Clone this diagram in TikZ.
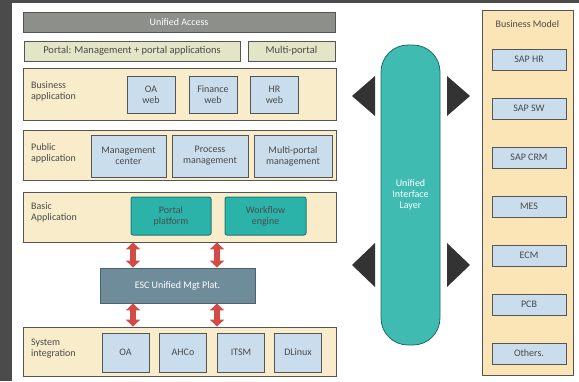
\documentclass[tikz,border=0pt]{standalone}
\usepackage{fontspec}
\setmainfont{Carlito}
\usetikzlibrary{arrows.meta,positioning}
\definecolor{FrameGray}{HTML}{4B4B4B}
\definecolor{LineGray}{HTML}{555555}
\definecolor{TextGray}{HTML}{4A4A4A}
\definecolor{TitleGray}{HTML}{8C8F8A}
\definecolor{PortalGreen}{HTML}{E2E6C6}
\definecolor{LayerYellow}{HTML}{F8ECCB}
\definecolor{ModelYellow}{HTML}{FBE5B6}
\definecolor{AppBlue}{HTML}{C9DDEC}
\definecolor{BaseTeal}{HTML}{2BB3A9}
\definecolor{BusSteel}{HTML}{6F8C9A}
\definecolor{BusRed}{HTML}{D34B47}

\tikzset{
  layer/.style={draw=LineGray, fill=LayerYellow, line width=0.8pt, minimum width=313, inner sep=0pt},
  layerlabel/.style={anchor=west, align=left, text=TextGray, font=\fontsize{10}{11}\selectfont},
  appbox/.style={draw=LineGray, fill=AppBlue, line width=1pt, align=center, text=TextGray,
    inner sep=1pt, font=\fontsize{10}{11}\selectfont},
  basebox/.style={appbox, draw=BaseTeal!70!black, fill=BaseTeal, text=black!70, rounded corners=2pt},
  portalbox/.style={draw=LineGray, fill=PortalGreen, line width=1pt, minimum height=20, text=TextGray,
    inner sep=1pt, font=\fontsize{10.5}{11}\selectfont},
  modelbox/.style={appbox, minimum width=74, minimum height=21},
  bus/.style={BusRed, line width=6pt, {Triangle[width=14pt,length=7pt]}-{Triangle[width=14pt,length=7pt]}},
  wing/.style={fill=black!80}
}

\begin{document}
\begin{tikzpicture}[x=1pt, y=-1pt]
\useasboundingbox (0,0) rectangle (579,381);
\fill[white] (0,0) rectangle (579,381);
\fill[FrameGray] (0,0) rectangle (12,381);
\fill[FrameGray] (0,0) rectangle (579,3);

% top rows
\node[draw=LineGray, fill=TitleGray, line width=1pt, minimum width=312, minimum height=20,
  text=white, font=\fontsize{10}{11}\selectfont] (title) at (179,22) {Unified Access};
\node[portalbox, minimum width=216] (portal) at (132,51) {Portal: Management + portal applications};
\node[portalbox, minimum width=87] (multi) at (291.5,51) {Multi-portal};

% business application
\node[layer, minimum height=52] (bizapp) at (179.5,94) {};
\node[layerlabel] (bizlbl) at ([xshift=5pt, yshift=3pt]bizapp.west) {Business\\application};
\node[appbox, minimum width=48, minimum height=37] (oaweb) at (151,94.5) {OA\\web};
\node[appbox, minimum width=48, minimum height=37] (finweb) at (213,94.5) {Finance\\web};
\node[appbox, minimum width=48, minimum height=37] (hrweb) at (274.5,94.5) {HR\\web};

% public application
\node[layer, minimum height=50] (pubapp) at (179.5,155) {};
\node[layerlabel] (publbl) at ([xshift=5pt, yshift=2pt]pubapp.west) {Public\\application};
\node[appbox, minimum width=75, minimum height=42] (mgmt) at (128.5,156) {Management\\center};
\node[appbox, minimum width=76, minimum height=42] (proc) at (210,156) {Process\\management};
\node[appbox, minimum width=78, minimum height=42] (mpm) at (293,156) {Multi-portal\\management};

% basic application
\node[layer, minimum height=50] (basic) at (179.5,217) {};
\node[layerlabel] (baslbl) at ([xshift=5pt, yshift=5pt]basic.west) {Basic\\Application};
\node[basebox, minimum width=80, minimum height=38] (pplat) at (171,216) {Portal\\platform};
\node[basebox, minimum width=81, minimum height=38] (wflow) at (265.5,216) {Workflow\\engine};

% exchange bus
\node[draw=BusSteel!70!black, fill=BusSteel, line width=0.8pt, minimum width=155, minimum height=35,
  text=white, font=\fontsize{10}{11}\selectfont] (esc) at (177.5,285.5) {ESC Unified Mgt Plat.};

% system integration
\node[layer, minimum height=49] (sysint) at (179.5,351.5) {};
\node[layerlabel] (syslbl) at ([xshift=5pt, yshift=3pt]sysint.west) {System\\integration};
\node[appbox, minimum width=47, minimum height=39] (oa) at (125.5,352.5) {OA};
\node[appbox, minimum width=47, minimum height=39] (ahco) at (183,352.5) {AHCo};
\node[appbox, minimum width=47, minimum height=39] (itsm) at (241,352.5) {ITSM};
\node[appbox, minimum width=47, minimum height=39] (dlinux) at (298,352.5) {DLinux};

\coordinate (ax1) at (133,0);
\coordinate (ax2) at (217,0);
\draw[bus] (ax1 |- basic.south) -- (ax1 |- esc.north);
\draw[bus] (ax2 |- basic.south) -- (ax2 |- esc.north);
\draw[bus] (ax1 |- esc.south) -- (ax1 |- sysint.north);
\draw[bus] (ax2 |- esc.south) -- (ax2 |- sysint.north);

% interface pillar
\fill[wing] (352,96) -- (375,76) -- (375,116) -- cycle;
\fill[wing] (470,96) -- (447,76) -- (447,116) -- cycle;
\fill[wing] (352,265) -- (375,243) -- (375,287) -- cycle;
\fill[wing] (470,265) -- (447,243) -- (447,287) -- cycle;
\node[draw=BaseTeal!60!black, fill=BaseTeal!90!white, line width=0.8pt, rounded corners=27pt,
  minimum width=59, minimum height=300, align=center, text=white,
  font=\fontsize{10}{11}\selectfont] (pill) at (410.5,195) {Unified\\Interface\\Layer};

% business model
\node[draw=LineGray, fill=ModelYellow, line width=0.8pt, minimum width=91, minimum height=365] (model) at (527.5,192.5) {};
\node[text=TextGray, font=\fontsize{10}{11}\selectfont] (modellbl) at (527.5,24) {Business Model};
\foreach \nm [count=\i] in {SAP HR, SAP SW, SAP CRM, MES, ECM, PCB, Others.} {
  \node[modelbox] (bm\i) at (529,{59.5+49*(\i-1)}) {\nm};
}

\end{tikzpicture}
\end{document}
